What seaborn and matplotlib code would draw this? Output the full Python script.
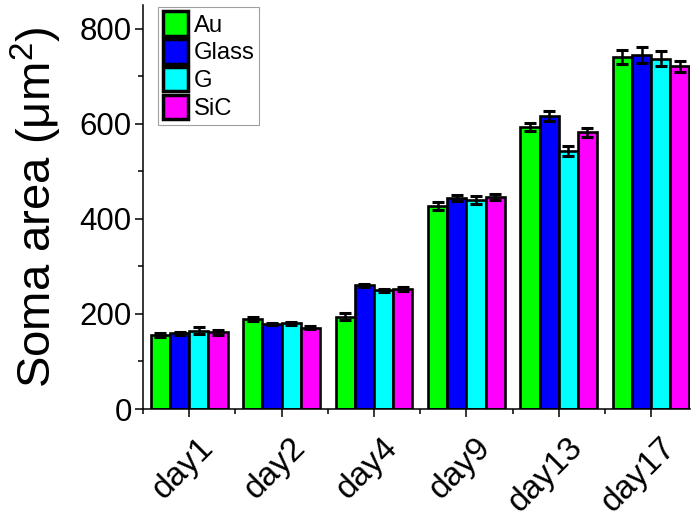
import matplotlib
matplotlib.use("Agg")
import matplotlib.pyplot as plt
import matplotlib.transforms as mtransforms
from matplotlib.patches import Patch
from matplotlib.ticker import MultipleLocator, FixedLocator
import numpy as np
import pandas as pd
import seaborn as sns

days = ["day1", "day2", "day4", "day9", "day13", "day17"]
surfaces = ["Au", "Glass", "G", "SiC"]
colors = ["#00ff00", "#0000ff", "#00ffff", "#ff00ff"]

# mean soma area per surface, one value per day
au = [156, 189, 194, 427, 593, 740]
glass = [159, 179, 260, 444, 616, 745]
g = [165, 180, 250, 440, 543, 737]
sic = [161, 171, 252, 446, 582, 721]

# error bars (SEM)
au_err = [4, 4, 7, 8, 9, 15]
glass_err = [4, 3, 3, 7, 10, 16]
g_err = [7, 4, 3, 9, 11, 16]
sic_err = [5, 3, 4, 6, 9, 11]

means = [au, glass, g, sic]
errs = [au_err, glass_err, g_err, sic_err]

df = pd.DataFrame({
    "day": np.tile(days, len(surfaces)),
    "surface": np.repeat(surfaces, len(days)),
    "area": np.concatenate(means),
})

sns.set_style("ticks")
plt.rcParams["font.family"] = ["Liberation Sans", "DejaVu Sans"]
plt.rcParams["mathtext.fontset"] = "custom"
plt.rcParams["mathtext.rm"] = "Liberation Sans"
for k in ["text.color", "axes.labelcolor", "xtick.color", "ytick.color", "axes.edgecolor"]:
    plt.rcParams[k] = "black"

fig = plt.figure(figsize=(6.92, 5.18), dpi=100)
ax = fig.add_axes([0.2066, 0.2104, 0.7904, 0.7799])

sns.barplot(data=df, x="day", y="area", hue="surface", order=days,
            hue_order=surfaces, palette=colors, errorbar=None, width=0.83,
            edgecolor="black", linewidth=1.9, saturation=1, legend=False, ax=ax)

for bars, err in zip(ax.containers, errs):
    xs = [b.get_x() + b.get_width() / 2 for b in bars]
    ys = [b.get_height() for b in bars]
    ax.errorbar(xs, ys, yerr=err, fmt="none", ecolor="black",
                elinewidth=1.8, capsize=4, capthick=2.2, zorder=5)

ax.set_ylim(0, 850)
ax.set_xlim(-0.5, 5.42)
ax.yaxis.set_major_locator(MultipleLocator(200))
ax.yaxis.set_minor_locator(MultipleLocator(100))
ax.xaxis.set_minor_locator(FixedLocator(np.arange(-0.5, 5, 1)))

sns.despine(ax=ax)
for sp in ["left", "bottom"]:
    ax.spines[sp].set_linewidth(1.1)
ax.tick_params(axis="both", which="major", length=6, width=1.1,
               color="black", pad=2)
ax.tick_params(axis="y", labelsize=22.5)
ax.tick_params(axis="x", labelsize=24)
ax.tick_params(axis="both", which="minor", length=3.5, width=1.1, color="black")

ax.set_xlabel("")
ax.set_ylabel("Soma area (μm$^2$)", fontsize=34, labelpad=11)

offset = mtransforms.ScaledTranslation(6 / 72, -8.5 / 72, fig.dpi_scale_trans)
for lab in ax.get_xticklabels():
    lab.set_rotation(45)
    lab.set_ha("right")
    lab.set_va("top")
    lab.set_rotation_mode("anchor")
    lab.set_transform(lab.get_transform() + offset)

handles = [Patch(facecolor=c, edgecolor="black", linewidth=2.5) for c in colors]
leg = ax.legend(handles, surfaces, loc="upper left", bbox_to_anchor=(0.027, 0.996),
                fontsize=17.2, frameon=True, fancybox=False, edgecolor="#888888",
                handlelength=1.05, handleheight=1.2, labelspacing=0.1,
                handletextpad=0.25, borderpad=0.2, borderaxespad=0.0)
leg.get_frame().set_linewidth(0.8)

fig.savefig("out.png", dpi=100)
